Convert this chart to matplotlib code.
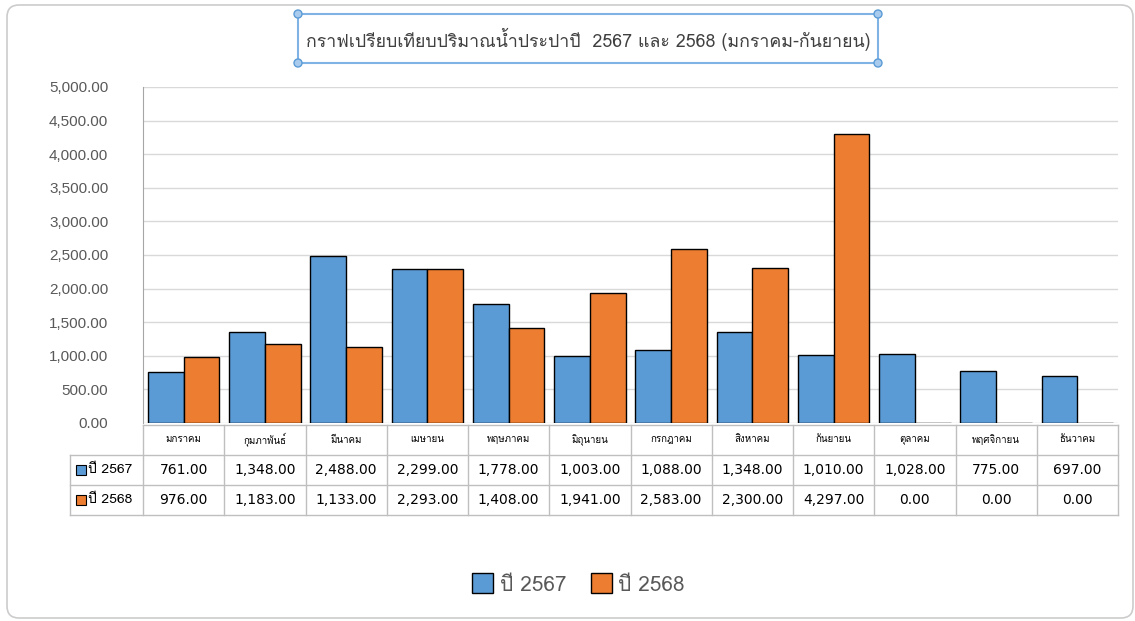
import matplotlib
matplotlib.use('Agg')
import matplotlib.pyplot as plt
import matplotlib.transforms as mtransforms
from matplotlib import font_manager
from matplotlib.ft2font import FT2Font
from matplotlib.patches import Patch, FancyBboxPatch, Rectangle, Circle
import numpy as np

# Data
months = ['มกราคม', 'กุมภาพันธ์', 'มีนาคม', 'เมษายน', 'พฤษภาคม', 'มิถุนายน',
          'กรกฎาคม', 'สิงหาคม', 'กันยายน', 'ตุลาคม', 'พฤศจิกายน', 'ธันวาคม']
y2567 = [761, 1348, 2488, 2299, 1778, 1003, 1088, 1348, 1010, 1028, 775, 697]
y2568 = [976, 1183, 1133, 2293, 1408, 1941, 2583, 2300, 4297, 0, 0, 0]
series_names = ['ปี 2567', 'ปี 2568']
title = 'กราฟเปรียบเทียบปริมาณน้ำประปาปี  2567 และ 2568 (มกราคม-กันยายน)'
yticks = np.arange(0, 5001, 500)

BLUE = '#5B9BD5'
ORANGE = '#ED7D31'
GRAY_TXT = '#595959'
GRID = '#d9d9d9'
TBL = '#bfbfbf'

# find a font that has Thai glyphs
thai_font = None
for f in font_manager.fontManager.ttflist:
    try:
        if 0x0E01 in FT2Font(f.fname).get_charmap():
            thai_font = f.name
            break
    except Exception:
        pass
families = [thai_font, 'DejaVu Sans'] if thai_font else ['DejaVu Sans']
plt.rcParams['font.family'] = families

W, H = 1135, 621
fig = plt.figure(figsize=(W / 100, H / 100), dpi=100)

# overlay in pixel coords for frame decorations
deco = fig.add_axes([0, 0, 1, 1], zorder=0)
deco.set_xlim(0, W)
deco.set_ylim(H, 0)
deco.axis('off')
deco.add_patch(FancyBboxPatch((7, 5), 1126, 613, boxstyle='round,pad=0,rounding_size=12',
                              fc='white', ec='#cccccc', lw=1.2))
deco.add_patch(Rectangle((298, 14), 580, 49, fc='none', ec='#7fb2e5', lw=1.5))
for cx, cy in [(298, 14), (878, 14), (298, 63), (878, 63)]:
    deco.add_patch(Circle((cx, cy), 4, fc='#a9cbee', ec='#5B9BD5', lw=1, zorder=5))
deco.text(588, 39, title, ha='center', va='center', fontsize=12.8, color='#404040')

# main axes
left, right, top, bottom = 143, 1118, 87, 423
ax = fig.add_axes([left / W, 1 - bottom / H, (right - left) / W, (bottom - top) / H], zorder=1)
ax.patch.set_alpha(0)

x = np.arange(len(months))
bw = 0.44
ax.bar(x - bw / 2, y2567, bw, color=BLUE, edgecolor='black', linewidth=1, zorder=3)
ax.bar(x + bw / 2, y2568, bw, color=ORANGE, edgecolor='black', linewidth=1, zorder=3)

ax.set_xlim(-0.5, len(months) - 0.5)
ax.set_ylim(0, 5000)
ax.set_yticks(yticks)
ax.set_yticklabels([f'{v:,.2f}' for v in yticks], family='Liberation Sans', fontsize=11, color=GRAY_TXT)
ax.set_xticks([])
ax.tick_params(axis='y', length=0, pad=25)
ax.grid(axis='y', color=GRID, lw=1, zorder=0)
for s in ['top', 'right', 'bottom']:
    ax.spines[s].set_visible(False)
ax.spines['left'].set_color('#a6a6a6')

# data table under the chart
trans = mtransforms.blended_transform_factory(ax.transData, ax.transAxes)
ph = bottom - top
row_y = [(bottom - p) / ph for p in (425, 455, 485, 515)]
xl = -0.5 + (70 - left) / ((right - left) / len(months))
xr = len(months) - 0.5

line_kw = dict(color=TBL, lw=1, transform=trans, clip_on=False)
ax.plot([-0.5, xr], [row_y[0]] * 2, **line_kw)
for yy in row_y[1:]:
    ax.plot([xl, xr], [yy] * 2, **line_kw)
ax.plot([xl, xl], [row_y[1], row_y[3]], **line_kw)
for b in np.arange(-0.5, len(months), 1.0):
    ax.plot([b, b], [row_y[0], row_y[3]], **line_kw)

hdr_c = (row_y[0] + row_y[1]) / 2
r1_c = (row_y[1] + row_y[2]) / 2
r2_c = (row_y[2] + row_y[3]) / 2
for i, m in enumerate(months):
    ax.text(i, hdr_c, m, transform=trans, ha='center', va='center', fontsize=7, color='black')
    ax.text(i, r1_c, f'{y2567[i]:,.2f}', transform=trans, ha='center', va='center',
            fontsize=10, color='black', family='DejaVu Sans')
    ax.text(i, r2_c, f'{y2568[i]:,.2f}', transform=trans, ha='center', va='center',
            fontsize=10, color='black', family='DejaVu Sans')

for yc, name, col in [(r1_c, series_names[0], BLUE), (r2_c, series_names[1], ORANGE)]:
    ax.plot([xl + 0.13], [yc], marker='s', ms=6.5, mfc=col, mec='black', mew=0.8,
            transform=trans, clip_on=False)
    ax.text(xl + 0.22, yc, name, transform=trans, ha='left', va='center', fontsize=10, color='black')

# legend
handles = [Patch(fc=BLUE, ec='black', lw=1), Patch(fc=ORANGE, ec='black', lw=1)]
leg = fig.legend(handles, series_names, loc='center', bbox_to_anchor=(0.5 + 11 / W, 1 - 584 / H),
                 ncol=2, frameon=False, fontsize=15, handlelength=1.0, handleheight=1.1,
                 handletextpad=0.3, columnspacing=1.2)
for t in leg.get_texts():
    t.set_color(GRAY_TXT)

fig.savefig('out.png', dpi=100)
